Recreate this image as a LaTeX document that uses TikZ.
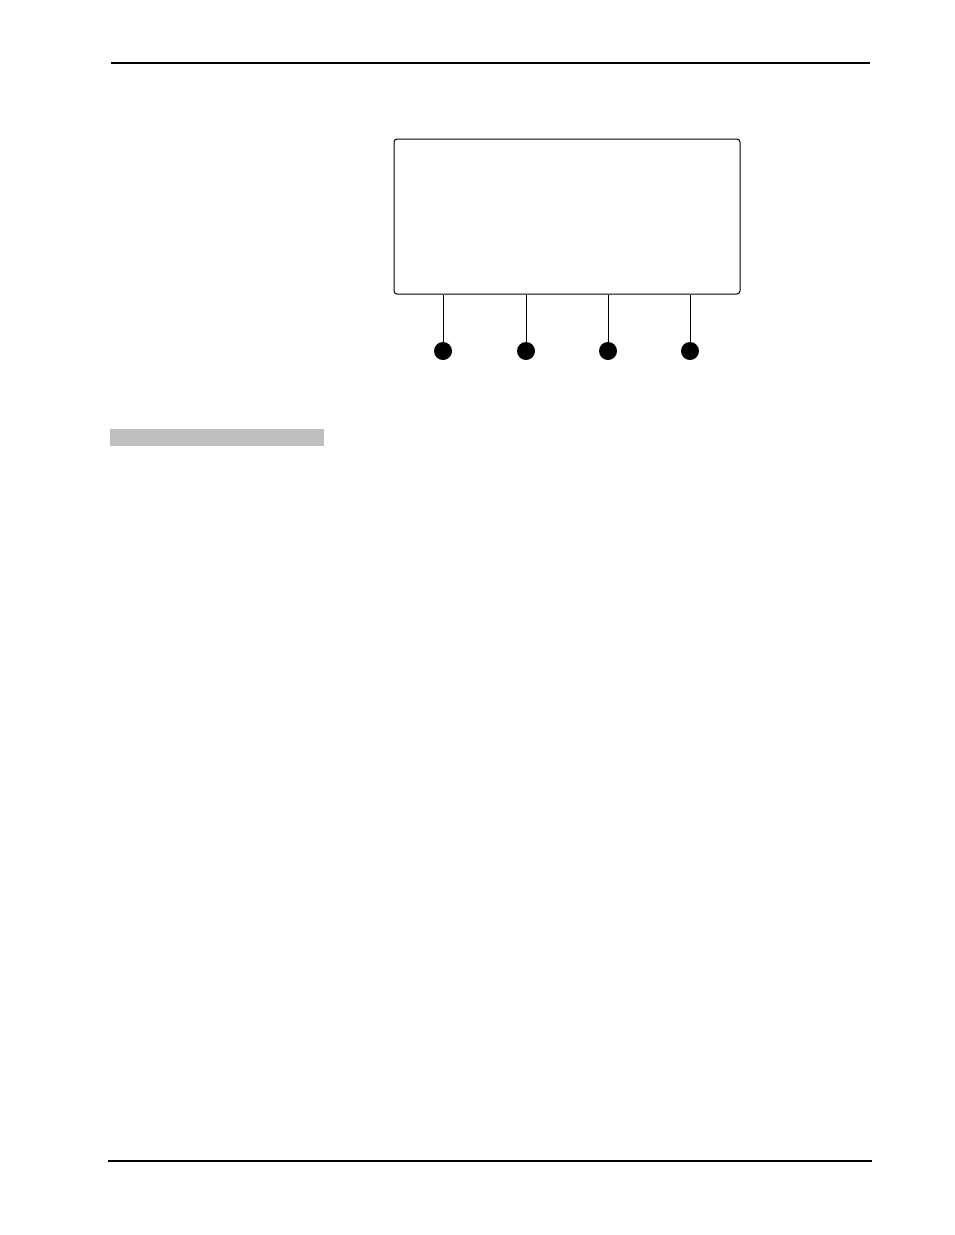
\documentclass[tikz,border=0pt]{standalone}
\usepackage{tikz}

\begin{document}
\begin{tikzpicture}[x=1pt, y=-1pt,
		ecran/.style={draw, rounded corners=3pt, line width=1pt, minimum width=346pt, minimum height=155pt, inner sep=0pt},
		touche/.style={circle, fill=black, minimum size=18pt, inner sep=0pt}]
		\useasboundingbox (0, 0) rectangle (954, 1235);

		% filet du haut
		\draw[line width=2pt] (111, 63) -- (870, 63);

		% ecran
		\node[ecran] (ecran) at (567, 216.5) {};

		% touches
		\node[touche] (t1) at (443, 351) {};
		\node[touche] (t2) at (526, 351) {};
		\node[touche] (t3) at (608, 351) {};
		\node[touche] (t4) at (690, 351) {};

		% liaisons ecran - touches
		\draw[line width=0.9pt] (t1) -- (t1 |- ecran.south);
		\draw[line width=0.9pt] (t2) -- (t2 |- ecran.south);
		\draw[line width=0.9pt] (t3) -- (t3 |- ecran.south);
		\draw[line width=0.9pt] (t4) -- (t4 |- ecran.south);

		% bandeau gris
		\fill[black!25] (110, 429) rectangle (324, 446);

		% filet du bas
		\draw[line width=1.2pt] (108, 1161) -- (872, 1161);

\end{tikzpicture}
\end{document}
